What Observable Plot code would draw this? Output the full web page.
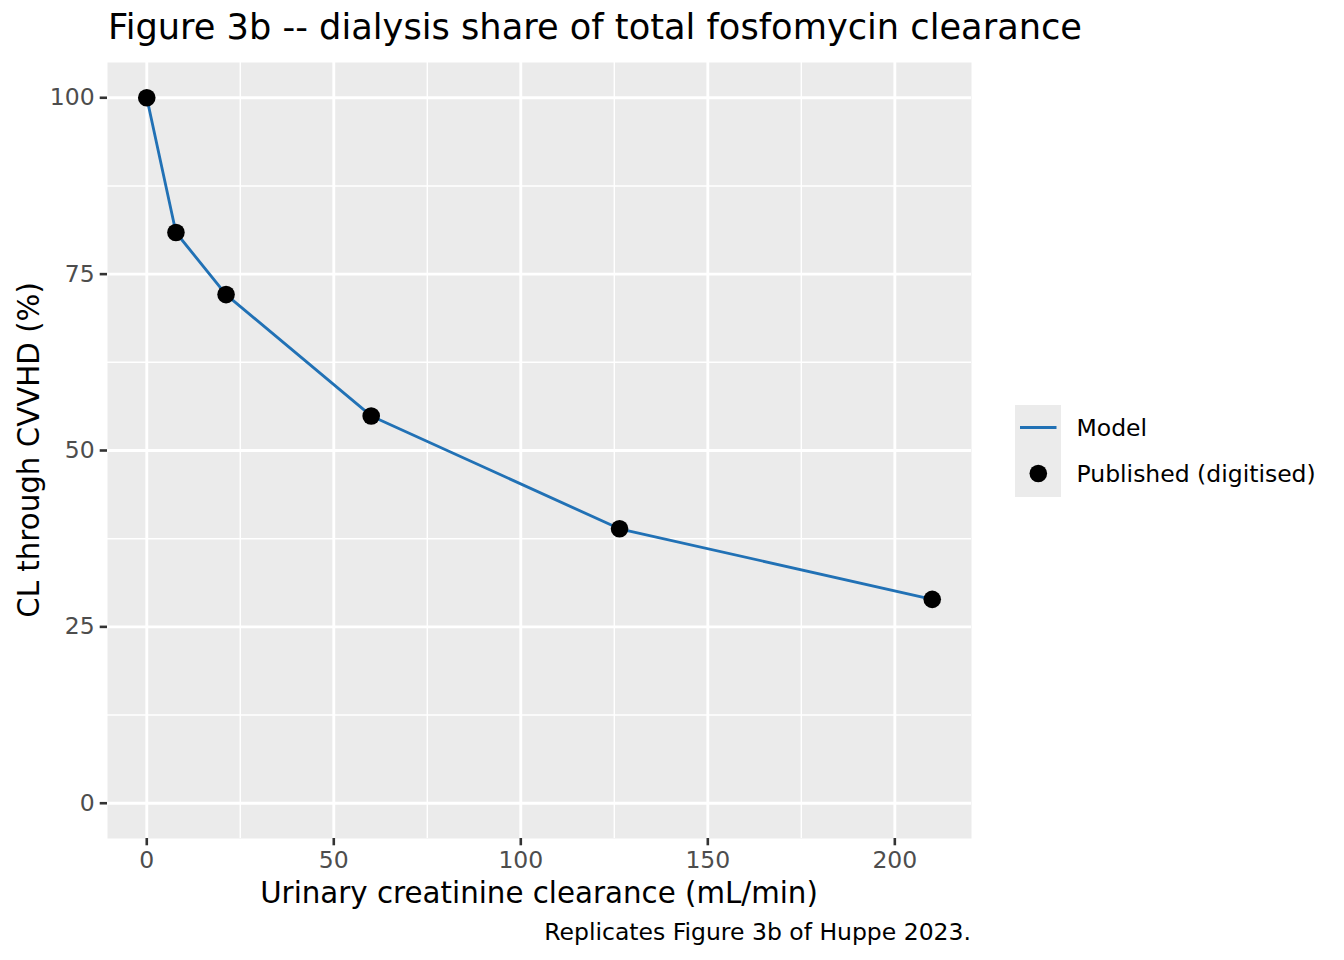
<!DOCTYPE html>
<html>
<head>
<meta charset="utf-8">
<script src="https://cdn.jsdelivr.net/npm/d3@7"></script>
<script src="https://cdn.jsdelivr.net/npm/@observablehq/plot@0.6"></script>
<style>
  html, body { margin: 0; padding: 0; background: #ffffff; }
  #wrap { position: relative; width: 1344px; height: 960px; font-family: "DejaVu Sans", sans-serif; }
  #wrap > svg { position: absolute; left: 0; top: 0; }
</style>
</head>
<body>
<div id="wrap"></div>
<script>
// ---- data ----
const clearance      = [0, 7.8, 21.2, 60, 126.4, 210];      // urinary creatinine clearance, mL/min
const modelShare     = [100, 80.9, 72.1, 54.9, 38.9, 28.9]; // model, % CL through CVVHD
const publishedShare = [100, 80.9, 72.1, 54.9, 38.9, 28.9];
const xTicks = [0, 50, 100, 150, 200];
const xMinor = [25, 75, 125, 175];
const yTicks = [0, 25, 50, 75, 100];
const yMinor = [12.5, 37.5, 62.5, 87.5];
const seriesNames = ["Model", "Published (digitised)"];
const titleText = "Figure 3b -- dialysis share of total fosfomycin clearance";
const xLabel = "Urinary creatinine clearance (mL/min)";
const yLabel = "CL through CVVHD (%)";
const captionText = "Replicates Figure 3b of Huppe 2023.";

const modelRows = clearance.map((c, i) => ({clearance: c, share: modelShare[i]}));
const pubRows = clearance.map((c, i) => ({clearance: c, share: publishedShare[i]}));

const blue = "#2171b5";
const W = 1344, H = 960;
const mL = 107, mR = 373, mT = 62, mB = 122;

const chart = Plot.plot({
  width: W, height: H,
  marginLeft: mL, marginRight: mR, marginTop: mT, marginBottom: mB,
  style: {fontFamily: "DejaVu Sans", background: "transparent", overflow: "visible"},
  x: {domain: [-10.5, 220.5]},
  y: {domain: [-5, 105]},
  marks: [
    Plot.frame({fill: "#ebebeb", stroke: "none"}),
    Plot.gridX(xMinor, {stroke: "#ffffff", strokeOpacity: 1, strokeWidth: 1.42}),
    Plot.gridY(yMinor, {stroke: "#ffffff", strokeOpacity: 1, strokeWidth: 1.42}),
    Plot.gridX(xTicks, {stroke: "#ffffff", strokeOpacity: 1, strokeWidth: 2.85}),
    Plot.gridY(yTicks, {stroke: "#ffffff", strokeOpacity: 1, strokeWidth: 2.85}),
    Plot.axisX(xTicks, {tickSize: 7.3, tickPadding: 6, fontSize: 23.5, fill: "#4d4d4d", stroke: "#333333", strokeWidth: 2.6, label: null}),
    Plot.axisY(yTicks, {tickSize: 7.3, tickPadding: 5.5, fontSize: 23.5, fill: "#4d4d4d", stroke: "#333333", strokeWidth: 2.6, label: null}),
    Plot.line(modelRows, {x: "clearance", y: "share", stroke: blue, strokeWidth: 2.85}),
    Plot.dot(pubRows, {x: "clearance", y: "share", r: 8.8, fill: "#000000", stroke: "none"})
  ]
});

const wrap = document.getElementById("wrap");
wrap.appendChild(chart);

// ---- overlay: title, axis titles, legend, caption ----
const svg = d3.select(wrap).append("svg")
  .attr("width", W).attr("height", H)
  .attr("font-family", "DejaVu Sans");

svg.append("text").attr("x", 108).attr("y", 38.5)
  .attr("font-size", 35.2).attr("fill", "#000").text(titleText);

svg.append("text").attr("x", (mL + (W - mR)) / 2).attr("y", 902.7)
  .attr("text-anchor", "middle").attr("font-size", 29.3).attr("fill", "#000").text(xLabel);

svg.append("text")
  .attr("transform", `translate(39,${(mT + (H - mB)) / 2}) rotate(-90)`)
  .attr("text-anchor", "middle").attr("font-size", 29.3).attr("fill", "#000").text(yLabel);

svg.append("text").attr("x", W - mR).attr("y", 940)
  .attr("text-anchor", "end").attr("font-size", 23.5).attr("fill", "#000").text(captionText);

const lg = svg.append("g");
lg.append("rect").attr("x", 1015).attr("y", 405).attr("width", 46).attr("height", 92).attr("fill", "#ebebeb");
lg.append("line").attr("x1", 1020).attr("x2", 1056.5).attr("y1", 427.5).attr("y2", 427.5)
  .attr("stroke", blue).attr("stroke-width", 2.85);
lg.append("circle").attr("cx", 1038.3).attr("cy", 473.5).attr("r", 8.8).attr("fill", "#000");
lg.append("text").attr("x", 1076.5).attr("y", 436).attr("font-size", 23.5).attr("fill", "#000").text(seriesNames[0]);
lg.append("text").attr("x", 1076.5).attr("y", 482).attr("font-size", 23.5).attr("fill", "#000").text(seriesNames[1]);
</script>
</body>
</html>
